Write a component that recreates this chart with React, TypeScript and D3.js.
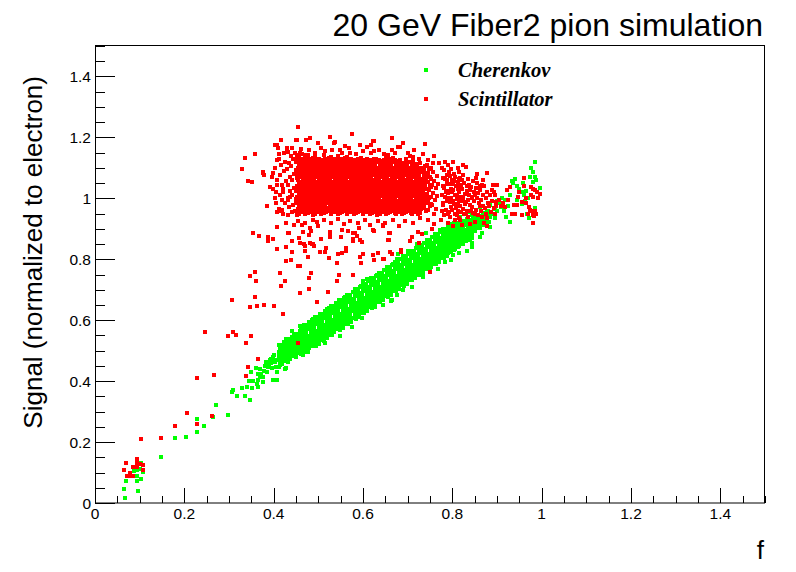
import React, { useRef, useEffect } from 'react';
import * as d3 from 'd3';

// axis ticks
const xTicks = [0, 0.2, 0.4, 0.6, 0.8, 1, 1.2, 1.4];
const yTicks = [0, 0.2, 0.4, 0.6, 0.8, 1, 1.2, 1.4];

// Points are listed as flat pairs: f, signal (both x1000)

// Cherenkov: sparse low-f part
const cherenkovLow = [
  67,15, 65,46, 96,39, 69,72, 93,72, 103,79, 93,90, 87,105, 94,108, 104,130, 107,103, 100,112,
  147,152, 178,214, 204,218, 228,234, 244,254, 228,277, 265,283, 297,289, 271,323,
  306,365, 309,371, 317,352, 336,352, 347,338, 328,376, 340,382, 351,376, 364,380,
  345,400, 354,400, 369,414, 375,398, 362,390, 360,444, 349,431, 377,414, 381,449, 392,469,
  396,442, 399,404, 407,404, 414,453, 427,442, 425,518, 418,502, 393,472, 382,453, 386,430,
  372,425, 366,405, 404,470, 400,485, 390,455, 408,430, 365,425, 370,440, 378,432, 383,462,
  388,445, 395,458, 402,462, 405,445, 398,478,
];

// Cherenkov: main band
const cherenkovBand = [
  412,446, 414,458, 410,471, 413,484, 411,497, 415,509, 412,520,
  419,455, 423,467, 420,480, 422,492, 418,505, 421,517, 424,530,
  431,462, 428,475, 432,487, 429,499, 433,512, 430,524, 427,537,
  437,473, 441,485, 438,497, 440,510, 436,523, 439,535, 442,546,
  449,480, 446,492, 450,505, 447,517, 451,530, 448,542, 445,555,
  455,491, 459,503, 456,515, 458,528, 454,540, 457,553, 460,564,
  467,498, 464,510, 468,523, 465,535, 469,548, 466,560, 463,572,
  473,509, 477,521, 474,533, 476,546, 472,558, 475,571, 478,582,
  485,516, 482,528, 486,541, 483,553, 487,566, 484,578, 481,590,
  491,527, 495,539, 492,551, 494,564, 490,576, 493,589, 496,600,
  503,534, 500,546, 504,559, 501,571, 505,584, 502,596, 499,608,
  509,545, 513,557, 510,569, 512,582, 508,594, 511,607, 514,618,
  521,552, 518,564, 522,577, 519,589, 523,602, 520,614, 517,626,
  527,563, 531,575, 528,587, 530,600, 526,612, 529,625, 532,636,
  539,570, 536,582, 540,595, 537,607, 541,620, 538,632, 535,644,
  545,581, 549,593, 546,605, 548,618, 544,630, 547,643, 550,654,
  557,588, 554,600, 558,613, 555,625, 559,638, 556,650, 553,662,
  563,599, 567,611, 564,623, 566,636, 562,648, 565,661, 568,672,
  575,606, 572,618, 576,631, 573,643, 577,656, 574,668, 571,680,
  581,617, 585,629, 582,641, 584,654, 580,666, 583,679, 586,690,
  593,624, 590,636, 594,649, 591,661, 595,674, 592,686, 589,698,
  599,635, 603,647, 600,659, 602,672, 598,684, 601,697, 604,708,
  611,642, 608,654, 612,667, 609,679, 613,692, 610,704, 607,716,
  617,653, 621,665, 618,677, 620,690, 616,702, 619,715, 622,726,
  629,660, 626,672, 630,685, 627,697, 631,710, 628,722, 625,734,
  635,671, 639,683, 636,695, 638,708, 634,720, 637,733, 640,744,
  647,678, 644,690, 648,703, 645,715, 649,728, 646,740, 643,752,
  653,689, 657,701, 654,713, 656,726, 652,738, 655,751, 658,762,
  665,696, 662,708, 666,721, 663,733, 667,746, 664,758, 661,770,
  671,707, 675,719, 672,731, 674,744, 670,756, 673,769, 676,780,
  683,714, 680,726, 684,739, 681,751, 685,764, 682,776, 679,788,
  689,725, 693,737, 690,749, 692,762, 688,774, 691,787, 694,798,
  701,732, 698,744, 702,757, 699,769, 703,782, 700,794, 697,806,
  707,743, 711,755, 708,767, 710,780, 706,792, 709,805, 712,816,
  719,750, 716,762, 720,775, 717,787, 721,800, 718,812, 715,824,
  725,761, 729,773, 726,785, 728,798, 724,810, 727,823, 730,834,
  737,768, 734,780, 738,793, 735,805, 739,818, 736,830, 733,842,
  743,779, 747,791, 744,803, 746,816, 742,828, 745,841, 748,852,
  755,786, 752,798, 756,811, 753,823, 757,836, 754,848, 751,860,
  761,797, 765,809, 762,821, 764,834, 760,846, 763,859, 766,870,
  773,804, 770,816, 774,829, 771,841, 775,854, 772,866, 769,878,
  779,815, 783,827, 780,839, 782,852, 778,864, 781,877, 784,888,
  791,822, 788,834, 792,847, 789,859, 793,872, 790,884, 787,896,
  797,836, 801,848, 798,860, 800,873, 796,885, 799,898,
  809,845, 806,857, 810,870, 807,882, 811,895, 808,906,
  815,854, 819,866, 816,878, 818,891, 814,903, 817,915,
  827,863, 824,875, 828,888, 825,900, 829,913, 826,925,
  833,874, 837,886, 834,898, 836,911, 832,923,
  845,882, 842,894, 846,907, 843,919, 847,932,
  851,892, 855,904, 852,916, 854,929, 850,941,
  863,902, 860,914, 864,927, 861,939,
  869,912, 873,924, 870,936, 872,949,
  881,922, 878,934, 882,947, 879,959,
];

// Cherenkov: more events inside the band
const cherenkovBandFill = [
  417,457, 419,470, 416,482, 418,494, 420,507, 417,519,
  426,466, 428,479, 425,491, 427,503, 429,516, 426,528,
  435,475, 437,488, 434,500, 436,512, 438,525, 435,537,
  444,484, 446,497, 443,509, 445,521, 447,534, 444,546,
  453,493, 455,506, 452,518, 454,530, 456,543, 453,555,
  462,490, 464,502, 461,515, 463,527, 465,539, 462,552, 464,564, 461,576,
  471,499, 473,511, 470,524, 472,536, 474,548, 471,561, 473,573, 470,585,
  480,508, 482,520, 479,533, 481,545, 483,557, 480,570, 482,582, 479,594,
  489,517, 491,529, 488,542, 490,554, 492,566, 489,579, 491,591, 488,603,
  498,526, 500,538, 497,551, 499,563, 501,575, 498,588, 500,600, 497,612,
  507,535, 509,547, 506,560, 508,572, 510,584, 507,597, 509,609, 506,621,
  516,544, 518,556, 515,569, 517,581, 519,593, 516,606, 518,618, 515,630,
  525,553, 527,565, 524,578, 526,590, 528,602, 525,615, 527,627, 524,639,
  534,562, 536,574, 533,587, 535,599, 537,611, 534,624, 536,636, 533,648,
  543,571, 545,583, 542,596, 544,608, 546,620, 543,633, 545,645, 542,657,
  552,580, 554,592, 551,605, 553,617, 555,629, 552,642, 554,654, 551,666,
  561,589, 563,601, 560,614, 562,626, 564,638, 561,651, 563,663, 560,675,
  570,598, 572,610, 569,623, 571,635, 573,647, 570,660, 572,672, 569,684,
  579,607, 581,619, 578,632, 580,644, 582,656, 579,669, 581,681, 578,693,
  588,616, 590,628, 587,641, 589,653, 591,665, 588,678, 590,690, 587,702,
  597,625, 599,637, 596,650, 598,662, 600,674, 597,687, 599,699, 596,711,
  606,634, 608,646, 605,659, 607,671, 609,683, 606,696, 608,708, 605,720,
  615,643, 617,655, 614,668, 616,680, 618,692, 615,705, 617,717, 614,729,
  624,652, 626,664, 623,677, 625,689, 627,701, 624,714, 626,726, 623,738,
  633,661, 635,673, 632,686, 634,698, 636,710, 633,723, 635,735, 632,747,
  642,670, 644,682, 641,695, 643,707, 645,719, 642,732, 644,744, 641,756,
  651,679, 653,691, 650,704, 652,716, 654,728, 651,741, 653,753, 650,765,
  660,688, 662,700, 659,713, 661,725, 663,737, 660,750, 662,762, 659,774,
  669,697, 671,709, 668,722, 670,734, 672,746, 669,759, 671,771, 668,783,
  678,706, 680,718, 677,731, 679,743, 681,755, 678,768, 680,780, 677,792,
  687,715, 689,727, 686,740, 688,752, 690,764, 687,777, 689,789, 686,801,
  696,724, 698,736, 695,749, 697,761, 699,773, 696,786, 698,798, 695,810,
  705,733, 707,745, 704,758, 706,770, 708,782, 705,795, 707,807, 704,819,
  714,742, 716,754, 713,767, 715,779, 717,791, 714,804, 716,816, 713,828,
  723,751, 725,763, 722,776, 724,788, 726,800, 723,813, 725,825, 722,837,
  732,760, 734,772, 731,785, 733,797, 735,809, 732,822, 734,834, 731,846,
  741,769, 743,781, 740,794, 742,806, 744,818, 741,831, 743,843, 740,855,
  750,778, 752,790, 749,803, 751,815, 753,827, 750,840, 752,852, 749,864,
  759,787, 761,799, 758,812, 760,824, 762,836, 759,849, 761,861, 758,873,
  768,796, 770,808, 767,821, 769,833, 771,845, 768,858, 770,870, 767,882,
  777,805, 779,817, 776,830, 778,842, 780,854, 777,867, 779,879, 776,891,
  786,814, 788,826, 785,839, 787,851, 789,863, 786,876, 788,888, 785,900,
  795,823, 797,835, 794,848, 796,860, 798,872, 795,885, 797,897, 794,909,
  804,832, 806,844, 803,857, 805,869, 807,881, 804,894, 806,906, 803,918,
  813,841, 815,853, 812,866, 814,878, 816,890, 813,903, 815,915,
  822,850, 824,862, 821,875, 823,887, 825,899, 822,912, 824,924,
  831,859, 833,871, 830,884, 832,896, 834,908, 831,921, 833,933,
  840,868, 842,880, 839,893, 841,905, 843,917, 840,930,
  849,895, 851,908, 848,920, 850,933, 852,945,
  858,904, 860,917, 857,929, 859,942,
  867,913, 869,926, 866,938, 868,951,
  876,922, 878,935, 875,947, 877,960,
];

// Cherenkov: upper and lower rim of the band
const cherenkovRim = [
  465,486, 467,584, 476,497, 485,602, 494,515, 492,612, 501,522, 503,620, 512,533,
  519,540, 521,638, 530,551, 528,648, 539,656, 548,569, 546,666, 555,576, 557,674,
  566,587, 564,684, 573,594, 584,605, 582,702, 591,612, 593,710, 602,623, 600,720,
  609,630, 611,728, 620,641, 618,738, 627,648, 629,746, 638,659, 636,756, 645,666,
  647,764, 656,677, 654,774, 663,684, 665,782, 674,695, 672,792, 681,702, 683,800,
  692,713, 690,810, 699,720, 701,818, 710,731, 708,828, 717,738, 719,836, 728,749,
  726,846, 735,756, 737,854, 746,767, 744,864, 753,774, 755,872, 764,785, 762,882,
  771,792, 773,890, 782,803, 780,900, 789,810, 791,908, 798,824, 800,910, 807,833,
  809,918, 816,842, 818,927, 825,851, 834,862, 836,935, 843,870, 845,944,
];

// Cherenkov: points off the band and the f ~ 1 end
const cherenkovEdge = [
  496,606, 506,620, 540,653, 567,677, 582,700, 600,728, 642,754, 675,802, 678,818, 772,896,
  786,896, 817,939, 839,956, 750,863, 720,850, 742,885, 862,972, 884,978, 900,990, 610,735,
  520,638, 460,582, 440,563, 700,826, 800,915,
  548,548, 575,578, 597,606, 627,642, 645,650, 662,663, 675,682, 515,524, 496,522, 425,440,
  832,828, 843,839, 843,854, 802,814, 797,797, 784,792, 767,768, 735,742, 709,710, 664,666,
  470,494, 560,595, 620,640, 690,700, 750,760, 815,822,
  861,874, 866,885, 884,907, 895,934, 928,923, 985,1120, 976,1100, 981,1085, 985,1071,
  987,1060, 980,1054, 974,1071, 940,1063, 933,1056, 936,1049, 950,1030, 955,1020, 960,1010,
  965,1025, 970,1000, 962,990, 996,1034, 992,1000, 985,967, 968,950, 972,935, 905,985,
  912,1000, 918,995, 908,970, 900,960, 915,958, 925,975, 928,1010, 945,995, 890,948, 895,965,
  884,940, 920,940, 955,980, 945,1040, 958,1050,
];

// Scintillator: dense core of the cloud
const scintillatorCore = [
  452,944, 448,958, 449,985, 451,998, 450,1025, 452,1039, 453,1066, 449,1079, 451,1093, 450,1120, 452,1133,
  457,947, 462,961, 458,974, 460,988, 456,1001, 459,1015, 461,1028, 457,1042, 462,1055, 458,1069, 460,1082, 456,1096, 459,1109, 461,1123, 457,1136, 460,1150,
  471,950, 467,963, 469,977, 465,990, 468,1004, 470,1017, 466,1031, 471,1044, 467,1058, 469,1071, 465,1085, 468,1098, 470,1112, 466,1125, 471,1139,
  476,953, 478,966, 474,980, 477,993, 479,1007, 475,1020, 480,1034, 476,1047, 478,1061, 474,1074, 477,1088, 479,1101, 475,1115, 480,1128, 476,1141,
  488,944, 484,958, 489,971, 485,985, 487,998, 483,1012, 486,1025, 488,1039, 484,1052, 489,1066, 485,1079, 487,1093, 483,1106, 486,1120, 488,1133,
  493,947, 498,961, 494,974, 496,988, 492,1001, 495,1015, 497,1028, 493,1042, 498,1055, 494,1069, 496,1082, 492,1096, 495,1109, 497,1123, 493,1136,
  507,950, 503,963, 505,977, 501,990, 504,1004, 506,1017, 502,1031, 507,1044, 503,1058, 505,1071, 501,1085, 504,1098, 506,1112, 502,1125,
  512,953, 514,966, 510,980, 513,993, 515,1007, 511,1020, 516,1034, 512,1047, 514,1061, 510,1074, 513,1088, 515,1101, 511,1115, 516,1128, 512,1141,
  520,958, 525,971, 521,985, 523,998, 519,1012, 522,1025, 524,1039, 520,1052, 525,1066, 521,1079, 523,1093, 519,1106, 522,1120, 524,1133,
  529,947, 534,961, 530,974, 532,988, 528,1001, 531,1015, 533,1028, 529,1042, 534,1055, 530,1069, 532,1082, 528,1096, 531,1109, 533,1123, 529,1136,
  543,950, 539,963, 541,977, 537,990, 540,1004, 542,1017, 538,1031, 543,1044, 539,1058, 541,1071, 537,1085, 540,1098, 542,1112, 538,1125, 543,1139,
  548,953, 550,966, 546,980, 549,993, 551,1007, 547,1020, 552,1034, 548,1047, 550,1061, 546,1074, 549,1088, 551,1101, 547,1115, 552,1128,
  556,958, 561,971, 557,985, 559,998, 555,1012, 558,1025, 560,1039, 556,1052, 561,1066, 557,1079, 559,1093, 555,1106, 558,1120, 560,1133,
  565,947, 570,961, 566,974, 568,988, 564,1001, 567,1015, 569,1028, 565,1042, 570,1055, 566,1069, 568,1082, 564,1096, 567,1109, 569,1123, 565,1136,
  579,950, 575,963, 577,977, 573,990, 576,1004, 578,1017, 574,1031, 579,1044, 575,1058, 577,1071, 573,1085, 576,1098, 578,1112, 574,1125,
  584,953, 586,966, 582,980, 585,993, 587,1007, 583,1020, 588,1034, 584,1047, 586,1061, 582,1074, 585,1088, 587,1101, 583,1115, 588,1128,
  592,958, 597,971, 593,985, 595,998, 591,1012, 594,1025, 596,1039, 592,1052, 597,1066, 593,1079, 595,1093, 591,1106, 594,1120, 596,1133,
  601,947, 606,961, 602,974, 604,988, 600,1001, 603,1015, 605,1028, 601,1042, 606,1055, 602,1069, 604,1082, 600,1096, 603,1109, 605,1123,
  615,950, 611,963, 613,977, 609,990, 612,1004, 614,1017, 610,1031, 615,1044, 611,1058, 613,1071, 609,1085, 612,1098, 614,1112, 610,1125,
  620,953, 622,966, 618,980, 621,993, 623,1007, 619,1020, 624,1034, 620,1047, 622,1061, 618,1074, 621,1088, 623,1101, 619,1115, 624,1128,
  632,944, 628,958, 633,971, 629,985, 631,998, 627,1012, 630,1025, 632,1039, 628,1052, 633,1066, 629,1079, 631,1093, 627,1106, 630,1120,
  637,947, 642,961, 638,974, 640,988, 636,1001, 639,1015, 641,1028, 637,1042, 642,1055, 638,1069, 640,1082, 636,1096, 639,1109, 641,1123,
  651,950, 647,963, 649,977, 645,990, 648,1004, 650,1017, 646,1031, 651,1044, 647,1058, 649,1071, 645,1085, 648,1098, 650,1112, 646,1125,
  656,953, 658,966, 654,980, 657,993, 659,1007, 655,1020, 660,1034, 656,1047, 658,1061, 654,1074, 657,1088, 659,1101, 655,1115, 660,1128,
  664,958, 669,971, 665,985, 667,998, 663,1012, 666,1025, 668,1039, 664,1052, 669,1066, 665,1079, 667,1093, 663,1106, 666,1120, 668,1133,
  673,947, 678,961, 674,974, 676,988, 672,1001, 675,1015, 677,1028, 673,1042, 678,1055, 674,1069, 676,1082, 672,1096, 675,1109, 677,1123,
  687,950, 683,963, 685,977, 681,990, 684,1004, 686,1017, 682,1031, 687,1044, 683,1058, 685,1071, 681,1085, 684,1098, 686,1112, 682,1125,
  692,953, 694,966, 690,980, 693,993, 695,1007, 691,1020, 696,1034, 692,1047, 694,1061, 690,1074, 693,1088, 695,1101, 691,1115, 696,1128,
  700,958, 705,971, 701,985, 703,998, 699,1012, 702,1025, 704,1039, 700,1052, 705,1066, 701,1079, 703,1093, 699,1106, 702,1120,
  709,947, 714,961, 710,974, 712,988, 708,1001, 711,1015, 713,1028, 709,1042, 714,1055, 710,1069, 712,1082, 708,1096, 711,1109, 713,1123,
  723,950, 719,963, 721,977, 717,990, 720,1004, 722,1017, 718,1031, 723,1044, 719,1058, 721,1071, 717,1085, 720,1098, 722,1112,
  728,953, 730,966, 726,980, 729,993, 731,1007, 727,1020, 732,1034, 728,1047, 730,1061, 726,1074, 729,1088, 731,1101, 727,1115,
  740,958, 736,971, 741,985, 737,998, 739,1012, 735,1025, 738,1039, 740,1052, 736,1066, 741,1079, 737,1093, 739,1106,
  745,961, 750,974, 746,988, 748,1001, 744,1015, 747,1028, 749,1042, 745,1055, 750,1069, 746,1082, 748,1096, 744,1109,
  759,950, 755,977, 753,1004, 756,1017, 754,1044, 759,1058, 757,1085, 753,1098,
  764,966, 762,993, 765,1007, 763,1034, 768,1047, 766,1074,
];

// Scintillator: more events inside the core
const scintillatorCoreFill = [
  456,951, 454,965, 457,978, 455,992, 453,1005, 456,1019, 454,1032, 457,1046, 455,1059, 453,1073, 456,1086, 454,1100, 457,1113, 455,1127, 453,1141,
  463,955, 465,968, 462,982, 466,995, 464,1009, 462,1022, 465,1036, 463,1049, 466,1063, 464,1076, 462,1090, 465,1103, 463,1117, 466,1130, 464,1144,
  474,951, 472,965, 475,978, 473,992, 471,1005, 474,1019, 472,1032, 475,1046, 473,1059, 471,1073, 474,1086, 472,1100, 475,1113, 473,1127, 471,1141,
  481,955, 483,968, 480,982, 484,995, 482,1009, 480,1022, 483,1036, 481,1049, 484,1063, 482,1076, 480,1090, 483,1103, 481,1117, 484,1130,
  492,951, 490,965, 493,978, 491,992, 489,1005, 492,1019, 490,1032, 493,1046, 491,1059, 489,1073, 492,1086, 490,1100, 493,1113, 491,1127,
  499,955, 501,968, 498,982, 502,995, 500,1009, 498,1022, 501,1036, 499,1049, 502,1063, 500,1076, 498,1090, 501,1103, 499,1117, 502,1130,
  510,951, 508,965, 511,978, 509,992, 507,1005, 510,1019, 508,1032, 511,1046, 509,1059, 507,1073, 510,1086, 508,1100, 511,1113, 509,1127,
  517,955, 519,968, 516,982, 520,995, 518,1009, 516,1022, 519,1036, 517,1049, 520,1063, 518,1076, 516,1090, 519,1103, 517,1117, 520,1130,
  528,951, 526,965, 529,978, 527,992, 525,1005, 528,1019, 526,1032, 529,1046, 527,1059, 525,1073, 528,1086, 526,1100, 529,1113, 527,1127,
  535,955, 537,968, 534,982, 538,995, 536,1009, 534,1022, 537,1036, 535,1049, 538,1063, 536,1076, 534,1090, 537,1103, 535,1117, 538,1130,
  546,951, 544,965, 547,978, 545,992, 543,1005, 546,1019, 544,1032, 547,1046, 545,1059, 543,1073, 546,1086, 544,1100, 547,1113, 545,1127,
  553,955, 555,968, 552,982, 556,995, 554,1009, 552,1022, 555,1036, 553,1049, 556,1063, 554,1076, 552,1090, 555,1103, 553,1117, 556,1130,
  564,951, 562,965, 565,978, 563,992, 561,1005, 564,1019, 562,1032, 565,1046, 563,1059, 561,1073, 564,1086, 562,1100, 565,1113, 563,1127,
  571,955, 573,968, 570,982, 574,995, 572,1009, 570,1022, 573,1036, 571,1049, 574,1063, 572,1076, 570,1090, 573,1103, 571,1117, 574,1130,
  582,951, 580,965, 583,978, 581,992, 579,1005, 582,1019, 580,1032, 583,1046, 581,1059, 579,1073, 582,1086, 580,1100, 583,1113, 581,1127,
  589,955, 591,968, 588,982, 592,995, 590,1009, 588,1022, 591,1036, 589,1049, 592,1063, 590,1076, 588,1090, 591,1103, 589,1117, 592,1130,
  600,951, 598,965, 601,978, 599,992, 597,1005, 600,1019, 598,1032, 601,1046, 599,1059, 597,1073, 600,1086, 598,1100, 601,1113, 599,1127,
  607,955, 609,968, 606,982, 610,995, 608,1009, 606,1022, 609,1036, 607,1049, 610,1063, 608,1076, 606,1090, 609,1103, 607,1117, 610,1130,
  618,951, 616,965, 619,978, 617,992, 615,1005, 618,1019, 616,1032, 619,1046, 617,1059, 615,1073, 618,1086, 616,1100, 619,1113, 617,1127,
  625,955, 627,968, 624,982, 628,995, 626,1009, 624,1022, 627,1036, 625,1049, 628,1063, 626,1076, 624,1090, 627,1103, 625,1117, 628,1130,
  636,951, 634,965, 637,978, 635,992, 633,1005, 636,1019, 634,1032, 637,1046, 635,1059, 633,1073, 636,1086, 634,1100, 637,1113, 635,1127,
  643,955, 645,968, 642,982, 646,995, 644,1009, 642,1022, 645,1036, 643,1049, 646,1063, 644,1076, 642,1090, 645,1103, 643,1117,
  654,951, 652,965, 655,978, 653,992, 651,1005, 654,1019, 652,1032, 655,1046, 653,1059, 651,1073, 654,1086, 652,1100, 655,1113, 653,1127,
  661,955, 663,968, 660,982, 664,995, 662,1009, 660,1022, 663,1036, 661,1049, 664,1063, 662,1076, 660,1090, 663,1103, 661,1117,
  672,951, 670,965, 673,978, 671,992, 669,1005, 672,1019, 670,1032, 673,1046, 671,1059, 669,1073, 672,1086, 670,1100, 673,1113, 671,1127,
  679,955, 681,968, 678,982, 682,995, 680,1009, 678,1022, 681,1036, 679,1049, 682,1063, 680,1076, 678,1090, 681,1103, 679,1117,
  690,951, 688,965, 691,978, 689,992, 687,1005, 690,1019, 688,1032, 691,1046, 689,1059, 687,1073, 690,1086, 688,1100, 691,1113,
  697,955, 699,968, 696,982, 700,995, 698,1009, 696,1022, 699,1036, 697,1049, 700,1063, 698,1076, 696,1090, 699,1103, 697,1117,
  708,951, 706,965, 709,978, 707,992, 705,1005, 708,1019, 706,1032, 709,1046, 707,1059, 705,1073, 708,1086, 706,1100, 709,1113,
  715,955, 717,968, 714,982, 718,995, 716,1009, 714,1022, 717,1036, 715,1049, 718,1063, 716,1076, 714,1090, 717,1103,
  726,965, 724,978, 727,992, 725,1005, 723,1019, 726,1032, 724,1046, 727,1059, 725,1073, 723,1086, 726,1100,
  733,968, 735,982, 732,995, 736,1009, 734,1022, 732,1036, 735,1049, 733,1063, 736,1076, 734,1090,
  742,992, 745,1005, 741,1032, 742,1059, 745,1073,
  753,982, 752,1036, 753,1063,
];

// Scintillator: looser parts of the cloud (left, right, rim)
const scintillatorHalo = [
  402,1000, 405,1020, 408,1060, 404,1100, 411,1130, 406,985,
  412,965, 415,1010, 418,1045, 414,1075, 417,1110, 413,1145,
  422,950, 425,985, 421,1030, 427,1058, 423,1090, 426,1120, 424,1150,
  432,945, 435,970, 431,1000, 437,1025, 433,1045, 436,1070, 430,1095, 434,1115, 438,1140,
  441,955, 444,978, 440,1010, 446,1035, 442,1060, 445,1080, 439,1105, 443,1128, 447,1150, 441,1165,
  777,958, 779,985, 776,1012, 778,1040, 780,1068, 777,1100, 790,948, 788,1000, 791,1025,
  789,1060, 792,1085, 800,962, 802,990, 799,1020, 801,1048, 803,1080, 811,945, 813,980,
  810,1010, 812,1030, 814,1062, 820,955, 822,990, 819,1045, 821,1060, 831,950, 830,988,
  832,1040, 841,960, 843,1000, 840,1028, 851,948, 850,1012, 853,1068, 862,975, 861,1040,
  782,945, 785,962, 780,978, 788,991, 783,1005, 786,1020, 781,1034, 789,1048, 784,1063, 787,1078, 782,1092,
  795,940, 792,955, 798,970, 794,988, 797,1002, 791,1016, 796,1031, 793,1047, 799,1060, 794,1074, 798,1096,
  805,950, 808,968, 803,983, 810,997, 806,1012, 802,1028, 809,1041, 804,1056, 807,1070,
  816,936, 813,958, 818,975, 815,990, 819,1006, 814,1022, 817,1040, 812,1055, 818,1068, 815,1085,
  826,948, 823,965, 829,980, 825,1000, 828,1015, 822,1032, 827,1050, 824,1075,
  836,940, 833,960, 839,978, 835,994, 838,1010, 832,1025, 837,1045, 834,1062,
  846,952, 843,970, 849,990, 845,1004, 848,1020, 842,1038, 847,1058,
  857,945, 853,962, 859,985, 855,1000, 858,1018, 852,1035, 856,1050,
  867,938, 864,958, 869,975, 865,995, 868,1012, 862,1028, 866,1045,
  876,950, 873,968, 879,985, 875,1002, 878,1020, 872,1040,
  886,955, 883,975, 889,992, 885,1010, 888,1028,
  896,948, 893,968, 898,988, 894,1020,
  455,925, 470,918, 487,930, 500,910, 512,928, 528,920, 545,932, 557,915, 572,926, 588,918,
  605,930, 615,912, 633,925, 650,920, 668,930, 680,910, 695,925, 712,918, 728,935, 745,928,
  760,915, 775,930, 790,920, 805,928, 822,912, 850,922, 870,918,
  462,1162, 478,1158, 492,1150, 515,1155, 530,1160, 552,1150, 568,1165, 585,1146, 600,1155,
  618,1148, 636,1160, 655,1142, 672,1150, 705,1138, 725,1130, 745,1125, 770,1115, 790,1110, 812,1100,
  505,1165, 548,1158, 572,1150, 610,1168, 648,1145, 700,1150, 712,1135, 760,1140, 575,1210,
  500,1180, 560,1172, 690,1180, 715,1160,
  454,1235, 416,1191, 336,1131, 328,1096, 358,1145, 343,1056, 351,1054, 375,1084, 378,1076,
  384,975, 407,956, 413,960, 408,907, 433,885, 472,1191, 481,1199, 450,1191, 526,1202, 537,1185,
  593,1175, 625,1188, 666,1199, 666,1160, 625,1156, 403,1175, 410,1166, 430,1160, 433,1152,
  739,1177, 734,1147, 683,1169, 757,1115, 783,1120, 802,1120, 823,1111, 830,1104, 856,1079,
  877,1084, 869,1060, 892,1043, 899,1043, 376,1087, 398,1083, 396,1071, 392,1038, 399,1032,
  407,1043, 422,1021, 418,994, 433,994, 437,1005, 418,961, 463,912, 465,888, 446,912, 428,920,
  481,901, 496,923, 526,890, 552,896, 582,885, 592,901, 623,896, 645,912, 660,885, 593,863,
  578,860, 659,863, 459,855, 481,852, 489,849, 407,1175, 429,1164, 452,1193, 407,1125,
  534,1180, 617,1175, 623,1188, 651,1139, 679,1169,
];

// Scintillator: tail towards low f and the f ~ 1 group
const scintillatorTail = [
  69,132, 65,108, 93,145, 84,119, 94,134, 94,123, 107,125, 107,108, 71,90, 78,98, 84,90,
  94,117, 76,90, 100,128,
  103,211, 147,214, 178,254, 228,260, 262,286, 205,296, 228,411, 266,420, 338,418, 343,447,
  365,473, 454,526, 338,526, 298,549, 309,562, 316,552, 349,549, 246,562, 420,621, 307,666,
  358,677, 347,644, 363,647, 378,651, 401,647, 496,660, 479,702, 459,690, 521,693, 541,729,
  577,749, 546,749, 484,756, 479,739, 414,756, 425,728, 416,713, 358,759, 347,746, 360,728,
  454,779, 459,779, 428,795, 439,797, 541,788, 596,788, 624,797, 647,800, 634,821, 622,814,
  593,808, 601,817, 563,836, 563,827, 552,822, 543,817, 524,805, 476,808, 517,838, 514,824,
  504,824, 470,828, 441,824, 427,839, 407,833, 598,857, 587,877, 578,885, 578,866, 566,892,
  550,874, 525,885, 525,874, 506,866, 490,844, 486,850, 471,844, 467,850, 441,861, 483,892,
  478,879, 456,870, 434,887, 398,866, 387,861, 387,872, 367,877, 353,887, 624,892, 659,887,
  657,863, 645,910, 660,824, 666,817, 684,832, 684,824, 645,800, 709,874, 705,860, 724,888,
  731,883, 725,854, 754,899, 750,759, 801,910, 817,928, 839,915, 877,910, 877,934,
  929,1038, 922,1027, 961,1067, 975,1038, 981,1032, 985,1027, 975,1010, 981,1005, 948,1005,
  937,978, 944,978, 955,989, 966,985, 972,970, 978,960, 985,958, 970,950, 980,945, 987,950,
  980,920, 996,1014, 991,1000, 913,985, 918,970, 925,995, 910,975, 895,1010, 905,994, 898,975,
  933,950, 940,948, 955,945, 983,943, 974,961, 960,1040, 950,1020, 990,1020, 965,1000,
];

const toPairs = (flat: number[]) => {
  const out: [number, number][] = [];
  for (let i = 0; i + 1 < flat.length; i += 2) out.push([flat[i] / 1000, flat[i + 1] / 1000]);
  return out;
};

const cherenkov = toPairs([
  ...cherenkovLow, ...cherenkovBand, ...cherenkovBandFill, ...cherenkovRim, ...cherenkovEdge,
]);
const scintillator = toPairs([
  ...scintillatorCore, ...scintillatorCoreFill, ...scintillatorHalo, ...scintillatorTail,
]);

const GREEN = '#00ff00';
const RED = '#ff0000';
const SANS = '"Liberation Sans", Arial, Helvetica, sans-serif';

const App: React.FC = () => {
  const svgRef = useRef<SVGSVGElement>(null);

  useEffect(() => {
    if (!svgRef.current) return;
    const svg = d3.select(svgRef.current);
    svg.selectAll('*').remove();

    const left = 95, right = 765, top = 46, bottom = 503;
    const x = d3.scaleLinear().domain([0, 1.5]).range([left, right]);
    const y = d3.scaleLinear().domain([0, 1.5]).range([bottom, top]);
    const ms = 4; // marker size in px

    svg.append('rect').attr('width', 796).attr('height', 572).attr('fill', '#fff');

    // markers, snapped to whole pixels like the ROOT output
    const drawSeries = (pts: [number, number][], color: string) => {
      svg.append('g')
        .attr('shape-rendering', 'crispEdges')
        .selectAll('rect')
        .data(pts)
        .enter()
        .append('rect')
        .attr('x', d => Math.round(x(d[0]) - ms / 2))
        .attr('y', d => Math.round(y(d[1]) - ms / 2))
        .attr('width', ms)
        .attr('height', ms)
        .attr('fill', color);
    };
    drawSeries(cherenkov, GREEN);
    drawSeries(scintillator, RED);

    // frame
    svg.append('rect')
      .attr('x', left + 0.5)
      .attr('y', top - 0.5)
      .attr('width', right - left - 1)
      .attr('height', bottom - top + 0.5)
      .attr('fill', 'none')
      .attr('stroke', '#000')
      .attr('stroke-width', 1);

    const axes = svg.append('g').attr('stroke', '#000').attr('stroke-width', 1);

    // x ticks (major every 0.2, minor every 0.05)
    x.ticks(30).forEach(t => {
      const major = xTicks.some(m => Math.abs(m - t) < 1e-6);
      const px = Math.round(x(t)) + 0.5;
      axes.append('line')
        .attr('x1', px).attr('x2', px)
        .attr('y1', bottom).attr('y2', bottom - (major ? 15 : 7));
    });
    // y ticks
    y.ticks(30).forEach(t => {
      const major = yTicks.some(m => Math.abs(m - t) < 1e-6);
      const py = Math.round(y(t)) + 0.5;
      axes.append('line')
        .attr('x1', left).attr('x2', left + (major ? 20 : 10))
        .attr('y1', py).attr('y2', py);
    });

    // tick labels
    svg.append('g')
      .selectAll('text')
      .data(xTicks)
      .enter()
      .append('text')
      .attr('x', d => x(d))
      .attr('y', 519)
      .attr('text-anchor', 'middle')
      .attr('font-family', SANS)
      .attr('font-size', 15.5)
      .text(d => String(d));

    svg.append('g')
      .selectAll('text')
      .data(yTicks)
      .enter()
      .append('text')
      .attr('x', 91)
      .attr('y', d => y(d) + 5.5)
      .attr('text-anchor', 'end')
      .attr('font-family', SANS)
      .attr('font-size', 15.5)
      .text(d => String(d));

    // titles
    svg.append('text')
      .attr('x', 763)
      .attr('y', 36)
      .attr('text-anchor', 'end')
      .attr('font-family', SANS)
      .attr('font-size', 32)
      .text('20 GeV Fiber2 pion simulation');

    svg.append('text')
      .attr('transform', 'translate(42, 76) rotate(-90)')
      .attr('text-anchor', 'end')
      .attr('font-family', SANS)
      .attr('font-size', 26)
      .text('Signal (normalized to electron)');

    svg.append('text')
      .attr('x', 764)
      .attr('y', 559)
      .attr('text-anchor', 'end')
      .attr('font-family', SANS)
      .attr('font-size', 26)
      .text('f');

    // legend
    const legendItems = [
      { label: 'Cherenkov', color: GREEN },
      { label: 'Scintillator', color: RED },
    ];
    const legend = svg.append('g');
    legendItems.forEach((item, i) => {
      const cy = 70 + i * 29;
      legend.append('rect')
        .attr('shape-rendering', 'crispEdges')
        .attr('x', 426 - ms / 2)
        .attr('y', cy - ms / 2)
        .attr('width', ms)
        .attr('height', ms)
        .attr('fill', item.color);
      legend.append('text')
        .attr('x', 458)
        .attr('y', cy + 7)
        .attr('font-family', '"Liberation Serif", "Times New Roman", serif')
        .attr('font-weight', 'bold')
        .attr('font-style', 'italic')
        .attr('font-size', 20.5)
        .text(item.label);
    });
  }, []);

  return (
    <svg
      ref={svgRef}
      width={796}
      height={572}
      style={{ position: 'absolute', left: 0, top: 0, display: 'block' }}
    />
  );
};

export default App;
